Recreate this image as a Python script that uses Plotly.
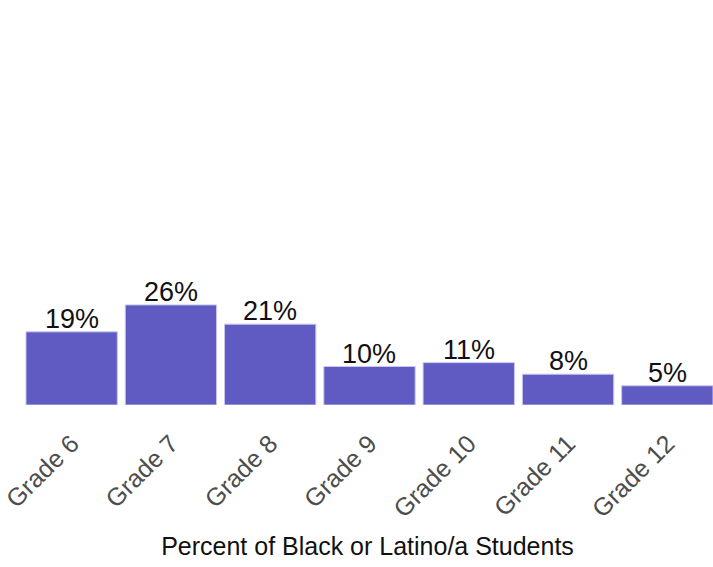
import plotly.graph_objects as go

categories = ["Grade 6", "Grade 7", "Grade 8", "Grade 9", "Grade 10", "Grade 11", "Grade 12"]
values = [19, 26, 21, 10, 11, 8, 5]
labels = ["19%", "26%", "21%", "10%", "11%", "8%", "5%"]

fig = go.Figure(
    go.Bar(
        x=categories,
        y=values,
        marker=dict(color="#5F5BC3", line=dict(color="#C9C7EE", width=1)),
        cliponaxis=False,
        hoverinfo="x+y",
    )
)

for cat, val, lab in zip(categories, values, labels):
    fig.add_annotation(
        x=cat,
        y=val,
        text=lab,
        showarrow=False,
        yanchor="bottom",
        xanchor="center",
        yshift=-4,
        font=dict(family="Liberation Sans, Arial, sans-serif", size=27, color="#111111"),
    )

fig.update_layout(
    width=713,
    height=567,
    margin=dict(l=22, r=0, t=20, b=162, autoexpand=False),
    plot_bgcolor="white",
    paper_bgcolor="white",
    bargap=0.08,
    showlegend=False,
    font=dict(family="Liberation Sans, Arial, sans-serif"),
    xaxis=dict(
        range=[-0.5, 6.46],
        tickangle=-45,
        tickfont=dict(size=25, color="#4D4D4D"),
        ticklabelstandoff=18,
        showgrid=False,
        showline=False,
        ticks="",
        automargin=False,
        title=dict(text="Percent of Black or Latino/a Students", font=dict(size=25, color="#111111"), standoff=15),
    ),
    yaxis=dict(
        range=[0, 100],
        visible=False,
        automargin=False,
    ),
)

fig.write_html(
    "out.html",
    config={"displayModeBar": False},
    post_script="document.body.style.margin='0px';",
)
